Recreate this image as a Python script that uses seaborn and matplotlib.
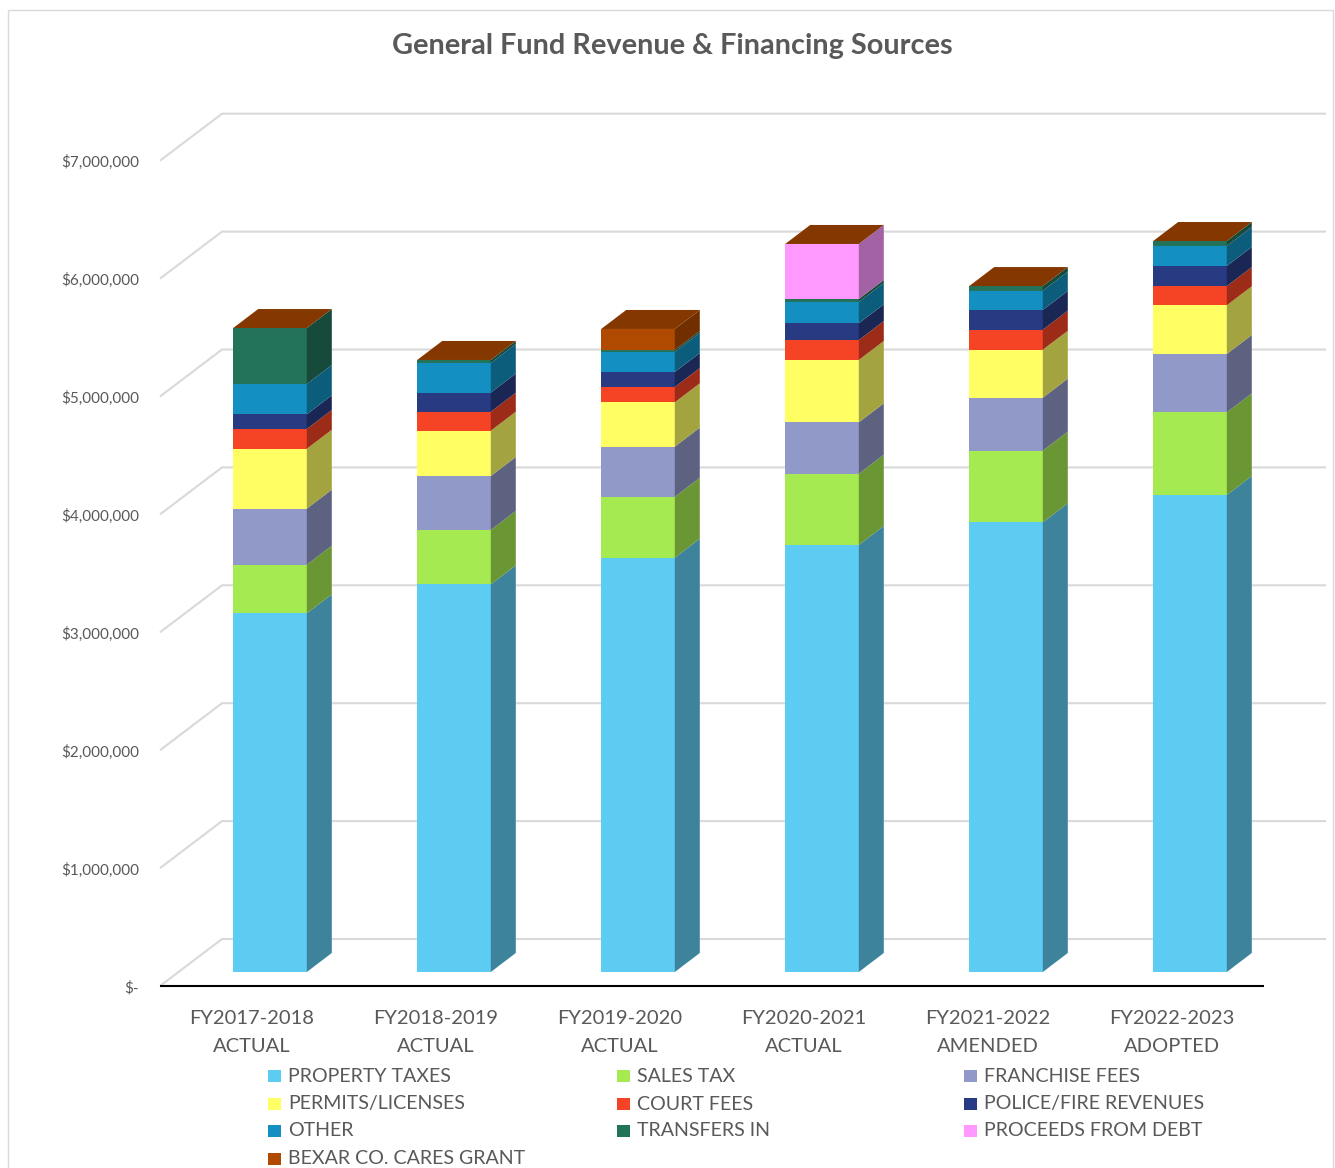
import numpy as np
import matplotlib
matplotlib.use("Agg")
import matplotlib.pyplot as plt
from matplotlib.patches import Rectangle, Polygon
import matplotlib.colors as mcolors
import seaborn as sns

# ---- data -------------------------------------------------------------
years = ["FY2017-2018", "FY2018-2019", "FY2019-2020",
         "FY2020-2021", "FY2021-2022", "FY2022-2023"]
stages = ["ACTUAL", "ACTUAL", "ACTUAL", "ACTUAL", "AMENDED", "ADOPTED"]

property_taxes = [3042000, 3288000, 3514000, 3622000, 3814000, 4046000]
sales_tax = [413000, 461000, 517000, 604000, 608000, 701000]
franchise_fees = [475000, 458000, 425000, 436000, 449000, 495000]
permits_licenses = [508000, 384000, 376000, 529000, 407000, 413000]
court_fees = [168000, 161000, 130000, 169000, 170000, 163000]
police_fire = [124000, 162000, 127000, 142000, 167000, 170000]
other = [257000, 251000, 170000, 181000, 164000, 170000]
transfers_in = [475000, 26000, 17000, 25000, 39000, 42000]
proceeds_debt = [0, 0, 0, 467000, 0, 0]
bexar_cares = [0, 0, 178000, 0, 0, 0]

series_names = ["PROPERTY TAXES", "SALES TAX", "FRANCHISE FEES",
                "PERMITS/LICENSES", "COURT FEES", "POLICE/FIRE REVENUES",
                "OTHER", "TRANSFERS IN", "PROCEEDS FROM DEBT",
                "BEXAR CO. CARES GRANT"]
series_colors = ["#5DCCF2", "#A6EA52", "#9199C9", "#FFFF63", "#F44325",
                 "#283B82", "#138FC1", "#23735B", "#FF99FF", "#B04A00"]

tick_values = [0, 1000000, 2000000, 3000000, 4000000, 5000000, 6000000, 7000000]
tick_labels = ["$-", "$1,000,000", "$2,000,000", "$3,000,000", "$4,000,000",
               "$5,000,000", "$6,000,000", "$7,000,000"]

title = "General Fund Revenue & Financing Sources"

values = np.array([property_taxes, sales_tax, franchise_fees, permits_licenses,
                   court_fees, police_fire, other, transfers_in, proceeds_debt,
                   bexar_cares], dtype=float)
cum = np.cumsum(values, axis=0)
base = cum - values

# ---- figure -----------------------------------------------------------
sns.set_theme(style="white")
plt.rcParams["font.family"] = ["Lato", "DejaVu Sans"]
TXT = "#595959"
GRID = "#D9D9D9"

W, H, DPI = 1335, 1168, 100
fig = plt.figure(figsize=(W / DPI, H / DPI), dpi=DPI)
fig.patch.set_facecolor("white")

# axes = plane of the bar front faces
PX_PER_CAT = 184.0
PX_PER_M = 117.9
YMAX = 7.5e6
left_px, bottom_px = 178.0, 972.0
ax_w = PX_PER_CAT * len(years)
ax_h = PX_PER_M * YMAX / 1e6
ax = fig.add_axes([left_px / W, (H - bottom_px) / H, ax_w / W, ax_h / H])
ax.set_facecolor("none")

sx = 1.0 / PX_PER_CAT          # data units per pixel, x
sy = 1e6 / PX_PER_M            # data units per pixel, y

BAR_W = 0.4
# stacked front faces: draw tallest cumulative first, lower layers on top
for k in reversed(range(len(series_names))):
    sns.barplot(x=years, y=cum[k], color=series_colors[k], saturation=1,
                width=BAR_W, errorbar=None, ax=ax, linewidth=0, zorder=3)

ax.set_xlim(-0.5, len(years) - 0.5)
ax.set_ylim(0, YMAX)
ax.set_axis_off()


def shade(c, f):
    r, g, b = mcolors.to_rgb(c)
    return (r * f, g * f, b * f)


# depth of each bar (oblique projection)
ddx, ddy = 25 * sx, 19 * sy
for i in range(len(years)):
    xl, xr = i - BAR_W / 2, i + BAR_W / 2
    for k in range(len(series_names)):
        lo, hi = base[k, i], cum[k, i]
        if hi - lo <= 0:
            continue
        side = Polygon([(xr, lo), (xr + ddx, lo + ddy), (xr + ddx, hi + ddy), (xr, hi)],
                       closed=True, facecolor=shade(series_colors[k], 0.64),
                       edgecolor="none", zorder=3, clip_on=False)
        ax.add_patch(side)
    tot = cum[-1, i]
    top = Polygon([(xl, tot), (xl + ddx, tot + ddy), (xr + ddx, tot + ddy), (xr, tot)],
                  closed=True, facecolor=shade(series_colors[-1], 0.75),
                  edgecolor="none", zorder=3, clip_on=False)
    ax.add_patch(top)

# front plane and back wall offsets
fx, fy = -18 * sx, -14 * sy
bx, by = 44 * sx, 33 * sy
x_lo, x_hi = -0.5, len(years) - 0.5
for v in tick_values:
    ax.plot([x_lo + fx, x_lo + bx, x_hi + bx], [v + fy, v + by, v + by],
            color=GRID, lw=1.5, zorder=1, clip_on=False, solid_capstyle="butt")

ax.plot([x_lo + fx, x_hi + fx], [fy, fy], color="black", lw=1.5, zorder=4,
        clip_on=False, solid_capstyle="butt")

for v, lab in zip(tick_values, tick_labels):
    ax.text(x_lo + fx - 21 * sx, v + fy - 2 * sy, lab, ha="right", va="center",
            fontsize=11, color=TXT, clip_on=False)

for i, (yr, st) in enumerate(zip(years, stages)):
    ax.text(i + fx, fy - 33 * sy, yr, ha="center", va="center",
            fontsize=14.5, color=TXT, clip_on=False)
    ax.text(i + fx, fy - 61 * sy, st, ha="center", va="center",
            fontsize=14.5, color=TXT, clip_on=False)

fig.text(672 / W, 1 - 46 / H, title, ha="center", va="center",
         fontsize=20.8, fontweight="bold", color=TXT)

# legend, three entries per row
col_x = [268, 617, 964]
row_y = [1076, 1104, 1131, 1159]
for n, (name, col) in enumerate(zip(series_names, series_colors)):
    r, c = divmod(n, 3)
    x, y = col_x[c], row_y[r]
    fig.add_artist(Rectangle((x / W, (H - y - 6) / H), 13 / W, 12 / H,
                             transform=fig.transFigure, facecolor=col,
                             edgecolor="none"))
    fig.text((x + 20) / W, 1 - y / H, name, ha="left", va="center",
             fontsize=14.1, color=TXT)

fig.add_artist(Rectangle((8 / W, -0.01), (1333 - 8) / W, 1 - 10 / H + 0.01,
                         transform=fig.transFigure, fill=False,
                         edgecolor=GRID, lw=1))

fig.savefig("out.png", dpi=DPI)
